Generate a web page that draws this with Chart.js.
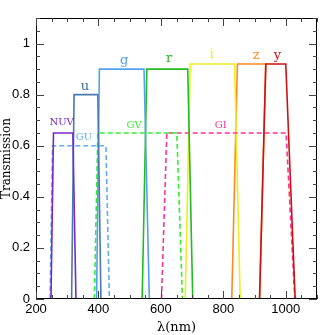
<!DOCTYPE html>
<html>
<head>
<meta charset="utf-8">
<script src="https://cdn.jsdelivr.net/npm/chart.js@4"></script>
<style>
  html, body { margin: 0; padding: 0; background: #fff; }
  #wrap { width: 335px; height: 335px; }
</style>
</head>
<body>
<div id="wrap"><canvas id="filters"></canvas></div>
<script>
// filter curves, wavelength (nm) and transmission
const bandNames = ["NUV", "GU", "u", "g", "GV", "r", "GI", "i", "z", "y"];
const nuvX = [248, 256, 318, 328];   const nuvY = [0, 0.65, 0.65, 0];
const guX  = [245, 253, 424, 435];   const guY  = [0, 0.60, 0.60, 0];
const uX   = [314, 322, 398, 408];   const uY   = [0, 0.80, 0.80, 0];
const gX   = [394, 403, 546, 563];   const gY   = [0, 0.90, 0.90, 0];
const gvX  = [387, 398, 651, 669];   const gvY  = [0, 0.65, 0.65, 0];
const rX   = [540, 555, 686, 702];   const rY   = [0, 0.90, 0.90, 0];
const giX  = [602, 619, 1001, 1029]; const giY  = [0, 0.65, 0.65, 0];
const iX   = [678, 694, 836, 854];   const iY   = [0, 0.92, 0.92, 0];
const zX   = [827, 845, 936, 916];   const zY   = [0, 0.92, 0.92, 0];
const yX   = [916, 936, 1000, 1030]; const yY   = [0, 0.92, 0.92, 0];

// where the band names sit (data units)
const labelX = [282, 354, 357, 482, 514, 626, 792, 762, 905, 973];
const labelY = [0.69, 0.634, 0.83, 0.935, 0.68, 0.94, 0.68, 0.957, 0.953, 0.953];

// axis ticks
const xTicks = [200, 400, 600, 800, 1000];
const yTicks = [0, 0.2, 0.4, 0.6, 0.8, 1];
const xMinor = 50, yMinor = 0.05;

const bandX = [nuvX, guX, uX, gX, gvX, rX, giX, iX, zX, yX];
const bandY = [nuvY, guY, uY, gY, gvY, rY, giY, iY, zY, yY];
const colors = ["#7a28c8", "#66aaee", "#4a78b0", "#55a0ee", "#33ee33",
                "#22bb22", "#ff3399", "#eeee22", "#ff8822", "#cc1111"];
const labelColors = ["#7a28c8", "#66aaee", "#3a6a9a", "#55a0ee", "#33ee33",
                     "#22bb22", "#ff3399", "#eeee22", "#ff8822", "#cc1111"];
const dashed = ["GU", "GV", "GI"];

const datasets = bandNames.map(function(name, k) {
	return {
		label: name,
		data: bandX[k].map((x, j) => ({ x: x, y: bandY[k][j] })),
		showLine: true,
		borderColor: colors[k],
		borderWidth: 1.6,
		borderDash: dashed.includes(name) ? [5, 3] : [],
		pointRadius: 0,
		fill: false,
		tension: 0,
		order: name === "y" ? -1 : 1
	};
});

function isMajor(v, list) {
	return list.some(t => Math.abs(t - v) < 1e-6);
}

// frame with inward ticks on all four sides, and the band names
const framePlugin = {
	id: "frame",
	afterDraw(chart) {
		const ctx = chart.ctx;
		const a = chart.chartArea;
		const xs = chart.scales.x, ys = chart.scales.y;
		ctx.save();
		ctx.strokeStyle = "#000";
		ctx.lineWidth = 1;
		ctx.strokeRect(a.left + 0.5, a.top + 0.5, a.right - a.left - 1, a.bottom - a.top - 1);
		ctx.strokeStyle = "#444";
		ctx.beginPath();
		for (let v = xs.min; v <= xs.max + 1e-6; v += xMinor) {
			const len = isMajor(v, xTicks) ? 8 : 4;
			const px = Math.round(xs.getPixelForValue(v)) + 0.5;
			ctx.moveTo(px, a.bottom); ctx.lineTo(px, a.bottom - len);
			ctx.moveTo(px, a.top); ctx.lineTo(px, a.top + len);
		}
		for (let v = ys.min; v <= ys.max + 1e-6; v += yMinor) {
			const len = isMajor(v, yTicks) ? 8 : 4;
			const py = Math.round(ys.getPixelForValue(v)) + 0.5;
			ctx.moveTo(a.left, py); ctx.lineTo(a.left + len, py);
			ctx.moveTo(a.right, py); ctx.lineTo(a.right - len, py);
		}
		ctx.stroke();

		ctx.textAlign = "center";
		ctx.textBaseline = "middle";
		bandNames.forEach(function(name, k) {
			const small = name.length > 1;
			ctx.font = (small ? "10px" : "13px") + " 'DejaVu Serif', serif";
			ctx.fillStyle = labelColors[k];
			ctx.fillText(name, xs.getPixelForValue(labelX[k]), ys.getPixelForValue(labelY[k]));
		});
		ctx.restore();
	}
};

new Chart(document.getElementById("filters"), {
	type: "scatter",
	data: { datasets: datasets },
	options: {
		responsive: true,
		maintainAspectRatio: false,
		animation: false,
		layout: { padding: { top: 18, right: 18, left: 0, bottom: 0 } },
		plugins: { legend: { display: false }, tooltip: { enabled: false } },
		scales: {
			x: {
				type: "linear",
				min: 200,
				max: 1100,
				grid: { display: false, drawTicks: false },
				border: { display: false },
				afterBuildTicks: s => { s.ticks = xTicks.map(v => ({ value: v })); },
				afterFit: s => { s.height = 36; },
				ticks: {
					autoSkip: false,
					padding: 3,
					maxRotation: 0,
					color: "#000",
					font: { family: "'Liberation Sans', Arial, sans-serif", size: 13 },
					callback: v => String(v)
				},
				title: {
					display: true,
					text: "λ(nm)",
					color: "#000",
					padding: { top: 0, bottom: 0 },
					font: { family: "'DejaVu Serif', serif", size: 13 }
				}
			},
			y: {
				type: "linear",
				min: 0,
				max: 1.1,
				grid: { display: false, drawTicks: false },
				border: { display: false },
				afterBuildTicks: s => { s.ticks = yTicks.map(v => ({ value: v })); },
				afterFit: s => { s.width = 36; },
				ticks: {
					autoSkip: false,
					padding: 6,
					color: "#000",
					font: { family: "'Liberation Sans', Arial, sans-serif", size: 13 },
					callback: v => String(+v.toFixed(2))
				},
				title: {
					display: true,
					text: "Transmission",
					color: "#000",
					padding: { top: 0, bottom: 0 },
					font: { family: "'DejaVu Serif', serif", size: 12 }
				}
			}
		}
	},
	plugins: [framePlugin]
});
</script>
</body>
</html>
